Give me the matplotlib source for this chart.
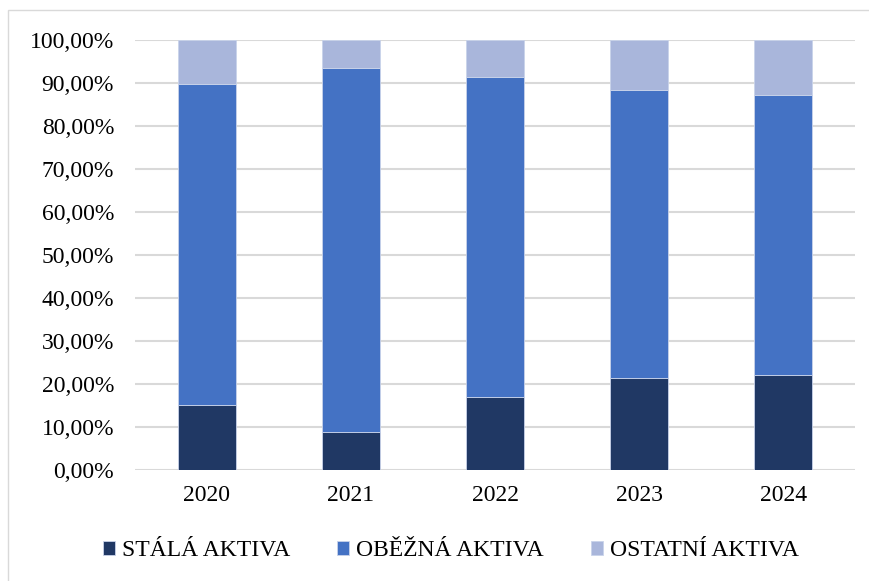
import numpy as np
import matplotlib.pyplot as plt
from matplotlib.patches import Rectangle
from matplotlib.ticker import FuncFormatter

plt.rcParams['font.family'] = ['Liberation Serif', 'DejaVu Serif']

# data (share of total assets, %)
years = ["2020", "2021", "2022", "2023", "2024"]
stala = [15.1, 8.8, 16.9, 21.3, 22.2]
obezna = [74.8, 84.7, 74.6, 67.1, 65.0]
ostatni = [10.1, 6.5, 8.5, 11.6, 12.8]

colors = ["#203864", "#4472C4", "#A9B6DB"]
labels = ["STÁLÁ AKTIVA", "OBĚŽNÁ AKTIVA", "OSTATNÍ AKTIVA"]

fig = plt.figure(figsize=(8.7, 5.81), dpi=100)
ax = fig.add_axes([0.155, 0.191, 0.828, 0.74])

x = np.arange(len(years))
w = 0.4
bottom = np.zeros(len(years))
for vals, c, lab in zip([stala, obezna, ostatni], colors, labels):
    ax.bar(x, vals, w, bottom=bottom, color=c, label=lab,
           edgecolor="#c9d3ea", linewidth=0.6, zorder=3)
    bottom += np.array(vals)

ax.set_ylim(0, 100)
ax.set_xlim(-0.5, len(years) - 0.5)
ax.set_yticks(np.arange(0, 101, 10))
ax.yaxis.set_major_formatter(FuncFormatter(lambda v, p: f"{v:.2f}".replace(".", ",") + "%"))
ax.set_xticks(x)
ax.set_xticklabels(years)
ax.tick_params(axis="both", length=0, labelsize=17, colors="black")
ax.tick_params(axis="x", pad=11)
ax.tick_params(axis="y", pad=15)
ax.grid(axis="y", color="#d9d9d9", linewidth=1.5, zorder=0)
for s in ax.spines.values():
    s.set_visible(False)

fig.legend(loc="center", bbox_to_anchor=(0.518, 0.052), ncol=3, frameon=False,
           fontsize=17, handlelength=0.5, handleheight=0.5, handletextpad=0.3,
           columnspacing=2.0)

# light border around the chart
fig.patches.append(Rectangle((0.009, -0.01), 1.2, 0.993, transform=fig.transFigure,
                             fill=False, edgecolor="#d9d9d9", linewidth=1))

fig.savefig("out.png", dpi=100)
